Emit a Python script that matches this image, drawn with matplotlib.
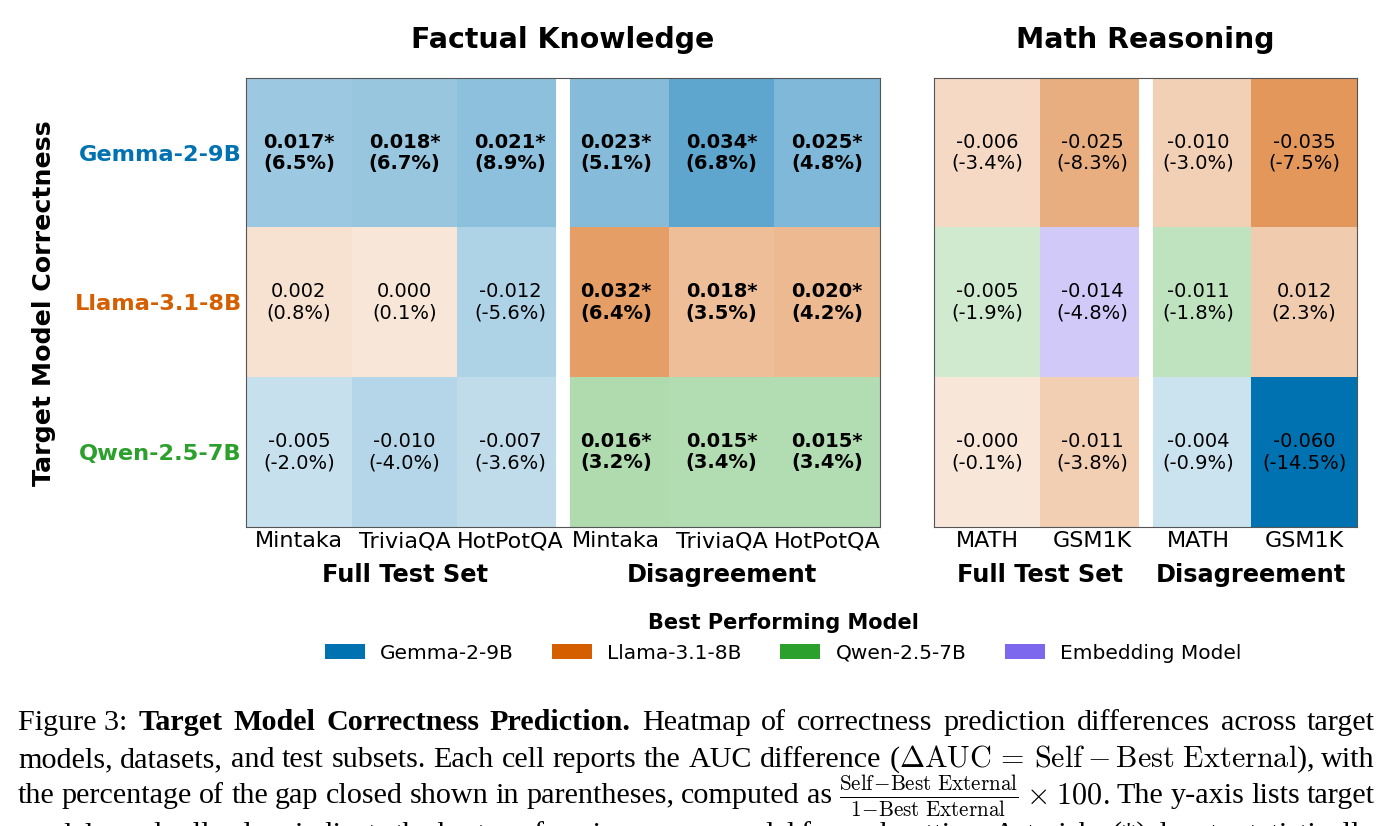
import numpy as np
import matplotlib
matplotlib.use("Agg")
import matplotlib.pyplot as plt
from matplotlib.colors import to_rgba
from matplotlib.patches import Patch

plt.rcParams['font.family'] = ['DejaVu Sans']
plt.rcParams['mathtext.fontset'] = 'cm'

# ---- data ----
targets = ["Gemma-2-9B", "Llama-3.1-8B", "Qwen-2.5-7B"]
sources = ["Gemma-2-9B", "Llama-3.1-8B", "Qwen-2.5-7B", "Embedding Model"]
source_colors = ["#0072B2", "#D55E00", "#2CA02C", "#7B68EE"]

fact_cols = ["Mintaka", "TriviaQA", "HotPotQA", "Mintaka", "TriviaQA", "HotPotQA"]
math_cols = ["MATH", "GSM1K", "MATH", "GSM1K"]
subsets = ["Full Test Set", "Disagreement"]

# delta AUC (self - best external)
fact_auc = [[0.017, 0.018, 0.021, 0.023, 0.034, 0.025],
            [0.002, 0.000, -0.012, 0.032, 0.018, 0.020],
            [-0.005, -0.010, -0.007, 0.016, 0.015, 0.015]]
# percentage of gap closed
fact_gap = [[6.5, 6.7, 8.9, 5.1, 6.8, 4.8],
            [0.8, 0.1, -5.6, 6.4, 3.5, 4.2],
            [-2.0, -4.0, -3.6, 3.2, 3.4, 3.4]]
# index into sources of the best performing model
fact_best = [[0, 0, 0, 0, 0, 0],
             [1, 1, 0, 1, 1, 1],
             [0, 0, 0, 2, 2, 2]]
fact_sig = [[1, 1, 1, 1, 1, 1],
            [0, 0, 0, 1, 1, 1],
            [0, 0, 0, 1, 1, 1]]

math_auc = [[-0.006, -0.025, -0.010, -0.035],
            [-0.005, -0.014, -0.011, 0.012],
            [-0.0, -0.011, -0.004, -0.060]]   # -0.0 prints as -0.000
math_gap = [[-3.4, -8.3, -3.0, -7.5],
            [-1.9, -4.8, -1.8, 2.3],
            [-0.1, -3.8, -0.9, -14.5]]
math_best = [[1, 1, 1, 1],
             [2, 3, 2, 1],
             [1, 1, 0, 0]]
math_sig = [[0, 0, 0, 0],
            [0, 0, 0, 0],
            [0, 0, 0, 0]]

W, H = 1392, 826
fig = plt.figure(figsize=(W / 100, H / 100), dpi=100)

vmax = max(np.abs(fact_auc).max(), np.abs(math_auc).max())


def px(x0, y0, x1, y1):
    return [x0 / W, 1 - y1 / H, (x1 - x0) / W, (y1 - y0) / H]


def heat(ax, auc, gap, best, sig, cols, title):
    auc = np.array(auc)
    nr, nc = auc.shape
    rgba = np.zeros((nr, nc, 4))
    for i in range(nr):
        for j in range(nc):
            a = 0.15 + 0.85 * abs(auc[i, j]) / vmax
            rgba[i, j] = to_rgba(source_colors[best[i][j]], a)
            txt = "%.3f%s\n(%.1f%%)" % (auc[i, j], "*" if sig[i][j] else "", gap[i][j])
            ax.text(j, i, txt, ha='center', va='center', fontsize=14,
                    fontweight='bold' if sig[i][j] else 'normal', linespacing=1.15)
    ax.imshow(rgba, aspect='auto', interpolation='nearest')
    ax.axvline(nc / 2 - 0.5, color='white', lw=10)
    ax.set_xticks(range(nc))
    ax.set_xticklabels(cols, fontsize=16)
    ax.tick_params(length=0, pad=3)
    for s in ax.spines.values():
        s.set_color('#555555')
        s.set_linewidth(0.8)
    tr = ax.get_xaxis_transform()
    half = nc / 2
    for k, lab in enumerate(subsets):
        ax.text(k * half + (half - 1) / 2, -0.107, lab, transform=tr, ha='center',
                va='center', fontsize=17.3, fontweight='bold')
    ax.text(0.5, 1.0846, title, transform=ax.transAxes, ha='center', va='center',
            fontsize=20.4, fontweight='bold')


ax1 = fig.add_axes(px(246, 78, 880, 527))
ax2 = fig.add_axes(px(934, 78, 1357, 527))
heat(ax1, fact_auc, fact_gap, fact_best, fact_sig, fact_cols, "Factual Knowledge")
heat(ax2, math_auc, math_gap, math_best, math_sig, math_cols, "Math Reasoning")

ax1.set_yticks(range(len(targets)))
ax1.set_yticklabels(targets, fontsize=16.2, fontweight='bold')
for lab, c in zip(ax1.get_yticklabels(), source_colors):
    lab.set_color(c)
ax2.set_yticks([])

fig.text(44 / W, 1 - 303 / H, "Target Model Correctness", rotation=90, ha='center',
         va='center', fontsize=18.2, fontweight='bold')

handles = [Patch(facecolor=c, label=s) for c, s in zip(source_colors, sources)]
fig.legend(handles=handles, loc='center', bbox_to_anchor=(783 / W, 1 - 638 / H), ncol=4,
           frameon=False, title="Best Performing Model",
           title_fontproperties={'weight': 'bold', 'size': 15}, fontsize=14.5,
           handlelength=2.0, handleheight=0.7, handletextpad=0.75, columnspacing=1.9)

# ---- caption (justified lines) ----
cap_lines = [
    [("Figure 3:", 'normal'), ("Target", 'bold'), ("Model", 'bold'), ("Correctness", 'bold'),
     ("Prediction.", 'bold')] + [(w, 'normal') for w in
     "Heatmap of correctness prediction differences across target".split()],
    [(w, 'normal') for w in "models, datasets, and test subsets. Each cell reports the AUC difference".split()]
    + [(r"($\Delta\mathrm{AUC}\,=\,\mathrm{Self}-\mathrm{Best\ External}$),", 'normal'),
       ("with", 'normal')],
    [(w, 'normal') for w in "the percentage of the gap closed shown in parentheses, computed as".split()]
    + [(r"$\frac{\mathrm{Self}\!-\!\mathrm{Best\ External}}{1\!-\!\mathrm{Best\ External}}$", 'normal'),
       (r"$\times\;100$.", 'normal')]
    + [(w, 'normal') for w in "The y-axis lists target".split()],
    [(w, 'normal') for w in
     "models, and cell colors indicate the best-performing source model for each setting. Asterisks (*) denote statistically".split()],
]
baselines = [730, 767, 803, 842]
x_left, x_right = 18, 1375

renderer = fig.canvas.get_renderer()

# pick the caption size so that the first line fits with normal word spacing
s0 = 20
probe = [fig.text(0, 0, s, fontsize=s0, fontweight=wt, family='Liberation Serif')
         for s, wt in cap_lines[0]]
sp = fig.text(0, 0, "a a", fontsize=s0, family='Liberation Serif')
sp2 = fig.text(0, 0, "aa", fontsize=s0, family='Liberation Serif')
space_w = sp.get_window_extent(renderer).width - sp2.get_window_extent(renderer).width
natural = sum(t.get_window_extent(renderer).width for t in probe) + space_w * (len(probe) - 1)
for t in probe + [sp, sp2]:
    t.remove()
cap_size = s0 * (x_right - x_left) / natural * 0.975

for toks, yb in zip(cap_lines, baselines):
    texts = []
    for s, wt in toks:
        t = fig.text(0, 1 - yb / H, s, fontsize=cap_size, fontweight=wt,
                     family='Liberation Serif', ha='left', va='baseline')
        texts.append(t)
    widths = [t.get_window_extent(renderer).width for t in texts]
    gap = (x_right - x_left - sum(widths)) / (len(texts) - 1)
    x = x_left
    for t, w in zip(texts, widths):
        t.set_x(x / W)
        x += w + gap

fig.savefig("out.png", dpi=100)
